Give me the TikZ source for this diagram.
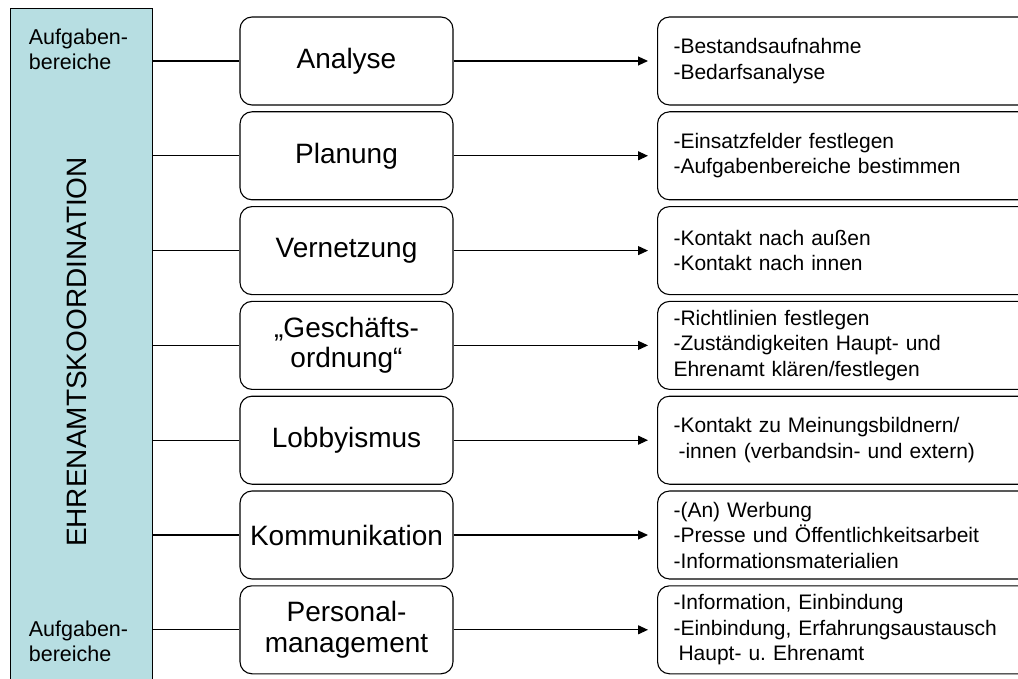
\documentclass[tikz,border=0pt]{standalone}
\usepackage{fontspec}
\setmainfont{Liberation Sans}
\usetikzlibrary{arrows.meta}
\definecolor{koordblue}{RGB}{183,222,226}
\frenchspacing

\begin{document}
\begin{tikzpicture}[x=1pt, y=-1pt, line width=1.1pt,
  midbox/.style={draw, rounded corners=12pt, minimum width=213pt, minimum height=88pt,
    align=center, font=\fontsize{28}{30.5}\selectfont},
  listbox/.style={draw, rounded corners=12pt, anchor=west, minimum height=88pt,
    text width=358pt, inner xsep=16pt, align=left, font=\fontsize{21}{25.5}\selectfont},
  sidelabel/.style={anchor=west, align=left, font=\fontsize{21.5}{25}\selectfont},
  arr/.style={-{Triangle[length=10pt, width=9pt]}}]
\useasboundingbox (0,0) rectangle (1018,679);

% Coordination column
\node[draw, fill=koordblue, anchor=north west, minimum width=142pt, minimum height=700pt, inner sep=0pt] (koord) at (10,8) {};
\node[rotate=90, font=\fontsize{28}{30}\selectfont] (title) at (77,352) {EHRENAMTSKOORDINATION};
\node[sidelabel] (labtop) at (25,49.5) {Aufgaben-\\bereiche};
\node[sidelabel] (labbot) at (25,641) {Aufgaben-\\bereiche};

% Task areas
\node[midbox] (m1) at (346.5,61) {Analyse};
\node[midbox] (m2) at (346.5,155.8) {Planung};
\node[midbox] (m3) at (346.5,250.6) {Vernetzung};
\node[midbox] (m4) at (346.5,345.4) {„Geschäfts-\\ordnung“};
\node[midbox] (m5) at (346.5,440.2) {Lobbyismus};
\node[midbox] (m6) at (346.5,535) {Kommunikation};
\node[midbox] (m7) at (346.5,629.8) {Personal-\\management};

% Details
\node[listbox] (r1) at (657,61) {-Bestandsaufnahme\\-Bedarfsanalyse};
\node[listbox] (r2) at (657,155.8) {-Einsatzfelder festlegen\\-Aufgabenbereiche bestimmen};
\node[listbox] (r3) at (657,250.6) {-Kontakt nach außen\\-Kontakt nach innen};
\node[listbox] (r4) at (657,345.4) {-Richtlinien festlegen\\-Zuständigkeiten Haupt- und\\Ehrenamt klären/festlegen};
\node[listbox] (r5) at (657,440.2) {-Kontakt zu Meinungsbildnern/\\\hspace*{5pt}-innen (verbandsin- und extern)};
\node[listbox] (r6) at (657,535) {-(An) Werbung\\-Presse und Öffentlichkeitsarbeit\\-Informationsmaterialien};
\node[listbox] (r7) at (657,629.8) {-Information, Einbindung\\-Einbindung, Erfahrungsaustausch\\\hspace*{5pt}Haupt- u. Ehrenamt};

% Connectors
\draw (m1.west -| koord.east) -- (m1.west);
\draw (m2.west -| koord.east) -- (m2.west);
\draw (m3.west -| koord.east) -- (m3.west);
\draw (m4.west -| koord.east) -- (m4.west);
\draw (m5.west -| koord.east) -- (m5.west);
\draw (m6.west -| koord.east) -- (m6.west);
\draw (m7.west -| koord.east) -- (m7.west);

% Arrows
\draw[arr] (m1.east) -- ([xshift=-9pt]r1.west);
\draw[arr] (m2.east) -- ([xshift=-9pt]r2.west);
\draw[arr] (m3.east) -- ([xshift=-9pt]r3.west);
\draw[arr] (m4.east) -- ([xshift=-9pt]r4.west);
\draw[arr] (m5.east) -- ([xshift=-9pt]r5.west);
\draw[arr] (m6.east) -- ([xshift=-9pt]r6.west);
\draw[arr] (m7.east) -- ([xshift=-9pt]r7.west);
\end{tikzpicture}
\end{document}
